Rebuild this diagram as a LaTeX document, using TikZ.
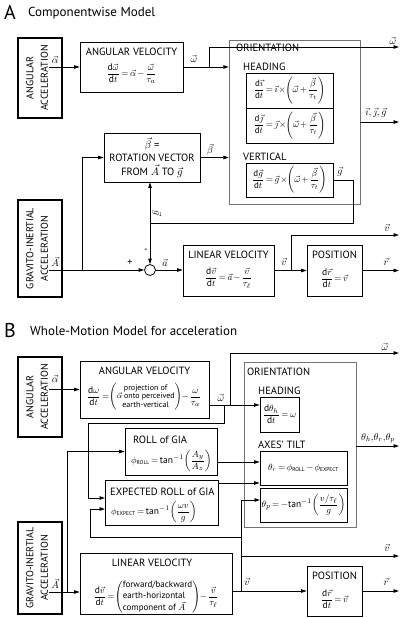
\documentclass[tikz,border=0pt]{standalone}
\usepackage{amsmath}
\usepackage{fontspec}
\setmainfont{PT Sans}
\usetikzlibrary{arrows.meta}
\newcommand{\dd}{\mathrm{d}}
\newcommand{\smalltag}[1]{\text{\fontsize{5.5}{6}\selectfont #1}}
\newcommand{\tightmath}{\medmuskip=2mu\thickmuskip=3mu}
\begin{document}
\begin{tikzpicture}[x=1pt,y=-1pt,
 box/.style={draw, line width=0.8pt, align=center, inner sep=0pt},
 tbox/.style={draw, line width=1.8pt, inner sep=0pt},
 obox/.style={draw=black!55, line width=0.5pt, inner sep=0pt},
 ttl/.style={font=\fontsize{10.5}{12}\selectfont, inner sep=0pt},
 vtxt/.style={font=\fontsize{10}{14.5}\selectfont, inner sep=0pt, rotate=90, align=center},
 eq/.style={font=\fontsize{9.5}{11}\selectfont\tightmath, inner sep=0pt},
 seq/.style={font=\fontsize{9}{11}\selectfont\tightmath, inner sep=0pt},
 lbl/.style={font=\fontsize{10}{11}\selectfont, inner sep=0pt},
 arr/.style={-{Triangle[length=5.5pt,width=3.5pt]}, line width=0.8pt},
 ln/.style={line width=0.8pt},
 big/.style={font=\fontsize{20}{22}\selectfont, inner sep=0pt},
 head/.style={font=\fontsize{13}{15}\selectfont, inner sep=0pt, anchor=west}]
\useasboundingbox (0,0) rectangle (400,618);

% ================= Panel A =================
\node[big] (hA) at (10,12) {A};
\node[head] (tA) at (28,13) {Componentwise Model};

\node[tbox, minimum width=44, minimum height=80] (angA) at (40,78) {};
\node[vtxt] (angAt) at ([xshift=-3pt]angA.center) {ANGULAR\\ACCELERATION};

\node[box, minimum width=103, minimum height=50] (angVA) at (131.5,67) {};
\node[ttl] (angVAt) at (131.5,52) {ANGULAR VELOCITY};
\node[eq] (angVAe) at (131.5,74) {$\dfrac{\dd\vec\omega}{\dd t}=\vec\alpha-\dfrac{\vec\omega}{\tau_a}$};

\node[obox, minimum width=131, minimum height=164] (orA) at (294.5,122) {};
\node[ttl, anchor=west] (orAt) at (236,48) {ORIENTATION};
\node[ttl, anchor=west] (hdAt) at (243,67) {HEADING};
\node[box, minimum width=87, minimum height=35] (hdI) at (289.5,90.5) {};
\node[seq] (hdIe) at (hdI) {$\dfrac{\dd\vec\imath}{\dd t}=\vec\imath\times\!\left(\vec\omega+\dfrac{\vec\beta}{\tau_t}\right)$};
\node[box, minimum width=87, minimum height=35] (hdJ) at (289.5,125.5) {};
\node[seq] (hdJe) at (hdJ) {$\dfrac{\dd\vec\jmath}{\dd t}=\vec\jmath\times\!\left(\vec\omega+\dfrac{\vec\beta}{\tau_t}\right)$};
\node[ttl, anchor=west] (vtAt) at (243,157) {VERTICAL};
\node[box, minimum width=87, minimum height=34] (vtA) at (289.5,180) {};
\node[seq] (vtAe) at (vtA) {$\dfrac{\dd\vec g}{\dd t}=\vec g\times\!\left(\vec\omega+\dfrac{\vec\beta}{\tau_t}\right)$};

\node[box, minimum width=96, minimum height=49, font=\fontsize{10.5}{13.5}\selectfont] (btA) at (152,157.5) {$\vec\beta$ =\\ROTATION VECTOR\\FROM $\vec A$ TO $\vec g$};

\node[tbox, minimum width=44, minimum height=97] (gvA) at (40,248.5) {};
\node[vtxt] (gvAt) at ([xshift=-3pt]gvA.center) {GRAVITO-INERTIAL\\ACCELERATION};

\node[draw, circle, minimum size=11, inner sep=0pt, line width=0.8pt] (sm) at (150,270) {};

\node[box, minimum width=91, minimum height=51] (linA) at (228.5,270.5) {};
\node[ttl] (linAt) at (228.5,255) {LINEAR VELOCITY};
\node[eq] (linAe) at (228.5,278) {$\dfrac{\dd\vec v}{\dd t}=\vec a-\dfrac{\vec v}{\tau_\ell}$};

\node[box, minimum width=55, minimum height=51] (posA) at (334.5,270.5) {};
\node[ttl] (posAt) at (334.5,255) {POSITION};
\node[eq] (posAe) at (334.5,278) {$\dfrac{\dd\vec r}{\dd t}=\vec v$};

% connectors A
\draw[arr] ([xshift=-14pt]angA.east |- angVA.west) -- (angVA.west);
\node[lbl] (la1) at (55,60) {$\vec\alpha$};

\coordinate (wA) at (209,67);
\coordinate (wAo) at (399,47);
\draw[arr] (angVA.east) -- (angVA.east -| orA.west);
\draw[arr] (wA) |- (wAo);
\node[lbl] (lw1) at (194,59) {$\vec\omega$};
\node[lbl] (lw2) at (393,41) {$\vec\omega$};

\draw[arr] (btA.east) -- (btA.east -| orA.west);
\node[lbl] (lb1) at (210,150) {$\vec\beta$};

\coordinate (ijgo) at (399,122);
\draw[arr] (orA.east) -- (ijgo);
\node[lbl] (lijg) at (376,113) {$\vec\imath,\vec\jmath,\vec g$};

\coordinate (gA1) at (353,223);
\coordinate (gA2) at (150,223);
\draw[ln] (vtA.east) -| (gA1) -- (gA2);
\draw[arr] (gA2) -- (btA.south -| gA2);
\draw[arr] (gA2) -- (sm.north);
\node[lbl] (lg1) at (340,172) {$\vec g$};
\node[lbl, rotate=-90] (lg2) at (157,213) {$\vec g$};
\node[lbl] (lminus) at (146,251) {-};

\coordinate (jA) at (82,270);
\draw[arr] ([xshift=-14pt]gvA.east |- sm.west) -- (sm.west);
\draw[arr] (jA) |- (btA.west);
\node[lbl] (lA1) at (55,262) {$\vec A$};
\node[lbl] (lplus) at (130,263) {+};

\draw[arr] (sm.east) -- (linA.west |- sm.east);
\node[lbl] (laa) at (165,263) {$\vec a$};

\draw[arr] (linA.east) -- (posA.west);
\coordinate (jvA) at (291,270.5);
\coordinate (vAo) at (399,235);
\draw[arr] (jvA) |- (vAo);
\node[lbl] (lv1) at (284,262) {$\vec v$};
\node[lbl] (lv2) at (387,228) {$\vec v$};

\coordinate (rAo) at (399,270.5);
\draw[arr] (posA.east) -- (rAo);
\node[lbl] (lr1) at (386,262) {$\vec r$};

% ================= Panel B =================
\node[big] (hB) at (10,330) {B};
\node[head] (tB) at (30,331) {Whole-Motion Model for acceleration};

\node[tbox, minimum width=44, minimum height=80] (angB) at (40,397) {};
\node[vtxt] (angBt) at ([xshift=-3pt]angB.center) {ANGULAR\\ACCELERATION};

\node[box, minimum width=129, minimum height=57] (angVB) at (144.5,389.5) {};
\node[ttl] (angVBt) at (144.5,371) {ANGULAR VELOCITY};
\node[eq] (angVBe) at (144,397) {$\dfrac{\dd\omega}{\dd t}=\!\left(\vcenter{\hbox{\fontsize{8}{8.5}\selectfont\begin{tabular}{@{}c@{}}projection of\\$\vec\alpha$ onto perceived\\earth-vertical\end{tabular}}}\right)\!-\dfrac{\omega}{\tau_a}$};

\node[obox, minimum width=112, minimum height=165] (orB) at (300,444.5) {};
\node[ttl, anchor=west] (orBt) at (247,372) {ORIENTATION};
\node[ttl, anchor=west] (hdBt) at (258,391) {HEADING};
\node[box, minimum width=39, minimum height=35] (hdB) at (279.5,414.5) {};
\node[eq] (hdBe) at (hdB) {$\dfrac{\dd\theta_h}{\dd t}=\omega$};
\node[ttl, anchor=west] (tiltt) at (258,445) {AXES' TILT};
\node[box, minimum width=87, minimum height=34] (rollT) at (303.5,468) {};
\node[seq] (rollTe) at (rollT) {$\theta_r=\phi_{\smalltag{ROLL}}-\phi_{\smalltag{EXPECT}}$};
\node[box, minimum width=87, minimum height=34] (pitchT) at (303.5,505) {};
\node[eq] (pitchTe) at (pitchT) {$\theta_p=-\text{tan}^{-1}\!\left(\dfrac{v/\tau_\ell}{g}\right)$};

\node[box, minimum width=92, minimum height=47] (rollB) at (171,451.5) {};
\node[ttl, anchor=west] (rollBt) at (133,440) {ROLL of GIA};
\node[eq, anchor=west] (rollBe) at (131,461) {$\phi_{\smalltag{ROLL}}=\text{tan}^{-1}\!\left(\dfrac{A_y}{A_z}\right)$};

\node[box, minimum width=113, minimum height=45] (expB) at (161.5,502.5) {};
\node[ttl, anchor=west] (expBt) at (110,492) {EXPECTED ROLL of GIA};
\node[eq, anchor=west] (expBe) at (111,512) {$\phi_{\smalltag{EXPECT}}=\text{tan}^{-1}\!\left(\dfrac{\omega v}{g}\right)$};

\node[tbox, minimum width=44, minimum height=92] (gvB) at (40,568) {};
\node[vtxt] (gvBt) at ([xshift=-3pt]gvB.center) {GRAVITO-INERTIAL\\ACCELERATION};

\node[box, minimum width=152, minimum height=61] (linB) at (156,583.5) {};
\node[ttl] (linBt) at (152,563) {LINEAR VELOCITY};
\node[eq] (linBe) at (156,597) {$\dfrac{\dd\vec v}{\dd t}=\!\left(\vcenter{\hbox{\fontsize{9}{10.5}\selectfont\begin{tabular}{@{}l@{}}forward/backward\\earth-horizontal\\component of $\vec A$\end{tabular}}}\right)\!-\dfrac{\vec v}{\tau_\ell}$};

\node[box, minimum width=55, minimum height=50] (posB) at (334.5,591) {};
\node[ttl] (posBt) at (334.5,576) {POSITION};
\node[eq] (posBe) at (334.5,599) {$\dfrac{\dd\vec r}{\dd t}=\vec v$};

% connectors B
\draw[arr] ([xshift=-14pt]angB.east |- angVB.west) -- (angVB.west);
\node[lbl] (la2) at (55,379) {$\vec\alpha$};

\coordinate (wB0) at (209,405);
\coordinate (wB1) at (230,405);
\coordinate (wB2) at (224,405);
\coordinate (wB3) at (88,423);
\coordinate (wBo) at (399,353);
\coordinate (eW1) at (105,498);
\draw[arr] (wB0) -- (wB0 -| hdB.west);
\draw[arr] (wB1) |- (wBo);
\draw[arr] (wB2) |- (wB3) |- (eW1);
\node[lbl] (lw3) at (221,398) {$\vec\omega$};
\node[lbl] (lw4) at (385,347) {$\vec\omega$};

\coordinate (thO) at (356,446);
\coordinate (thE) at (399,446);
\draw[arr] (thO) -- (thE);
\node[lbl] (lth) at (378,438) {$\theta_h,\!\theta_r,\!\theta_p$};

\coordinate (rO) at (217,462);
\draw[arr] (rO) -- (rO -| rollT.west);
\coordinate (eO) at (218,483);
\draw[arr] (eO) -- (eO -| rollT.west);

\coordinate (jB) at (67,592);
\draw[arr] ([xshift=-14pt]gvB.east |- jB) -- (linB.west |- jB);
\draw[arr] (jB) |- (rollB.west);
\node[lbl] (lA2) at (55,584) {$\vec A$};

\coordinate (jvB) at (241,591);
\coordinate (pW) at (260,500);
\coordinate (vBo) at (399,556);
\coordinate (vB1) at (90,537);
\coordinate (eW2) at (105,509);
\draw[arr] (linB.east |- posB.west) -- (posB.west);
\draw[arr] (jvB) |- (pW);
\draw[arr] (jvB |- vBo) -- (vBo);
\draw[arr] (jvB |- vB1) -- (vB1) |- (eW2);
\node[lbl] (lv3) at (247,582) {$\vec v$};
\node[lbl] (lv4) at (387,548) {$\vec v$};

\coordinate (rBo) at (399,591);
\draw[arr] (posB.east) -- (rBo);
\node[lbl] (lr2) at (386,582) {$\vec r$};
\end{tikzpicture}
\end{document}
